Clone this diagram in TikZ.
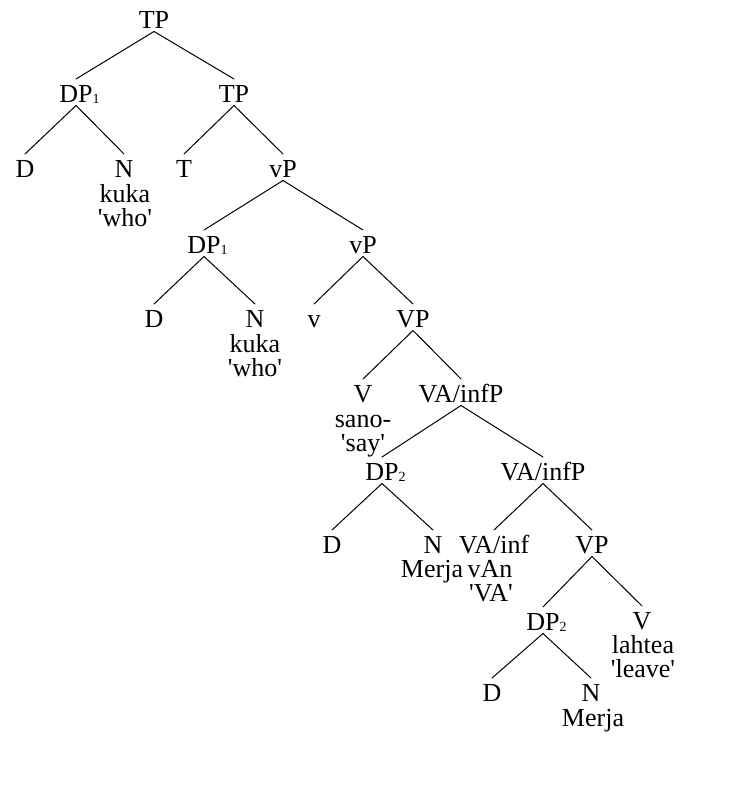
\documentclass[tikz,border=0pt]{standalone}
\usepackage{fontspec}
\setmainfont{Liberation Serif}[Ligatures=TeXOff]
\newcommand{\sbs}[1]{\rlap{\raisebox{-1.5pt}{\fontsize{14}{14}\selectfont #1}}}
\begin{document}
\begin{tikzpicture}[x=1pt,y=-1pt,
  cat/.style={anchor=base,inner sep=0pt,outer sep=0pt,text height=23pt,text depth=3.5pt},
  gl/.style={anchor=base,inner sep=0pt,outer sep=0pt,text height=17pt,text depth=5pt},
  br/.style={line width=1pt,line cap=round}]
\useasboundingbox (0,0) rectangle (738,795);
\fontsize{26}{26}\selectfont
% nodes
\node[cat] (tp0) at (154,28) {TP};
\node[cat] (dp1a) at (76,102) {DP\sbs{1}};
\node[cat] (tp1) at (234,102) {TP};
\node[cat] (d1) at (25,177) {D};
\node[cat] (n1) at (124,177) {N};
\node[gl] (n1g1) at (125,202) {kuka};
\node[gl] (n1g2) at (125,226) {'who'};
\node[cat] (t1) at (184,177) {T};
\node[cat] (vp1) at (283,177) {vP};
\node[cat] (dp1b) at (204,253) {DP\sbs{1}};
\node[cat] (vp2) at (363,253) {vP};
\node[cat] (d2) at (154,327) {D};
\node[cat] (n2) at (255,327) {N};
\node[gl] (n2g1) at (255,352) {kuka};
\node[gl] (n2g2) at (255,376) {'who'};
\node[cat] (v1) at (314,327) {v};
\node[cat] (vp3) at (413,327) {VP};
\node[cat] (V1) at (363,402) {V};
\node[gl] (V1g1) at (363,427) {sano-};
\node[gl] (V1g2) at (363,451) {'say'};
\node[cat] (va1) at (461,402) {VA/infP};
\node[cat] (dp2a) at (382,480) {DP\sbs{2}};
\node[cat] (va2) at (543,480) {VA/infP};
\node[cat] (d3) at (332,553) {D};
\node[cat] (n3) at (433,553) {N};
\node[gl] (n3g1) at (432,577) {Merja};
\node[cat] (va3) at (494,553) {VA/inf};
\node[gl] (va3g1) at (490,577) {vAn};
\node[gl] (va3g2) at (491,601) {'VA'};
\node[cat] (vp4) at (592,553) {VP};
\node[cat] (dp2b) at (543,630) {DP\sbs{2}};
\node[cat] (V2) at (642,629) {V};
\node[gl] (V2g1) at (643,653) {lahtea};
\node[gl] (V2g2) at (643,677) {'leave'};
\node[cat] (d4) at (492,701) {D};
\node[cat] (n4) at (591,701) {N};
\node[gl] (n4g1) at (593,726) {Merja};
% branches
\draw[br] (tp0.south) -- (dp1a.north);
\draw[br] (tp0.south) -- (tp1.north);
\draw[br] (dp1a.south) -- (d1.north);
\draw[br] (dp1a.south) -- (n1.north);
\draw[br] (tp1.south) -- (t1.north);
\draw[br] (tp1.south) -- (vp1.north);
\draw[br] (vp1.south) -- (dp1b.north);
\draw[br] (vp1.south) -- (vp2.north);
\draw[br] (dp1b.south) -- (d2.north);
\draw[br] (dp1b.south) -- (n2.north);
\draw[br] (vp2.south) -- (v1.north);
\draw[br] (vp2.south) -- (vp3.north);
\draw[br] (vp3.south) -- (V1.north);
\draw[br] (vp3.south) -- (va1.north);
\draw[br] (va1.south) -- (dp2a.north);
\draw[br] (va1.south) -- (va2.north);
\draw[br] (dp2a.south) -- (d3.north);
\draw[br] (dp2a.south) -- (n3.north);
\draw[br] (va2.south) -- (va3.north);
\draw[br] (va2.south) -- (vp4.north);
\draw[br] (vp4.south) -- (dp2b.north);
\draw[br] (vp4.south) -- (V2.north);
\draw[br] (dp2b.south) -- (d4.north);
\draw[br] (dp2b.south) -- (n4.north);
\end{tikzpicture}
\end{document}
